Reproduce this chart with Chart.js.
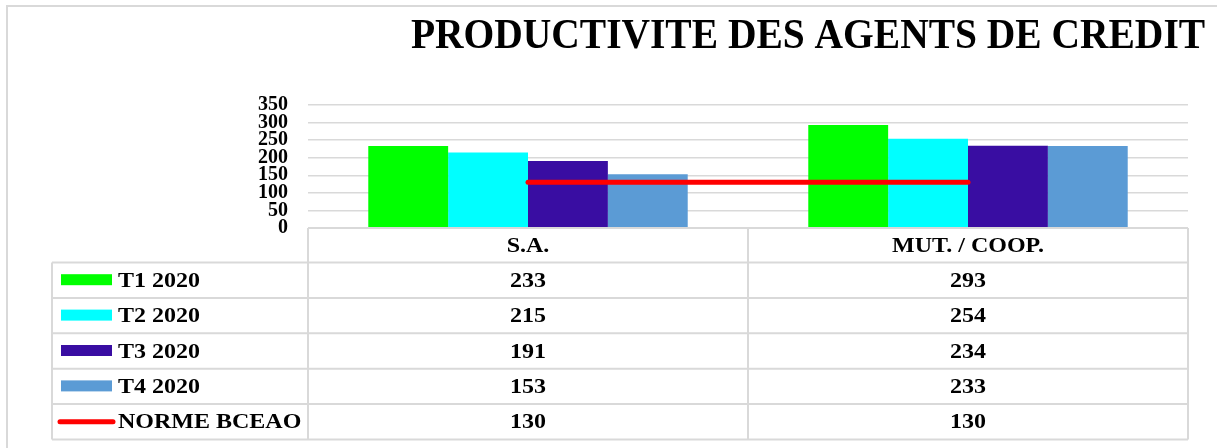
<!DOCTYPE html>
<html>
<head>
<meta charset="utf-8">
<script src="https://cdn.jsdelivr.net/npm/chart.js@4"></script>
<style>
  html, body { margin: 0; padding: 0; background: #fff; }
  #wrap { width: 1217px; height: 448px; }
</style>
</head>
<body>
<div id="wrap"><canvas id="chart" width="1217" height="448"></canvas></div>
<script>
const chartTitle = "PRODUCTIVITE DES AGENTS DE CREDIT";
const categories = ["S.A.", "MUT. / COOP."];
const seriesNames = ["T1 2020", "T2 2020", "T3 2020", "T4 2020", "NORME BCEAO"];
const t1Values = [233, 293];
const t2Values = [215, 254];
const t3Values = [191, 234];
const t4Values = [153, 233];
const normeValues = [130, 130];
const yMin = 0;
const yMax = 350;
const yStep = 50;

const colors = ["#00ff00", "#00ffff", "#390da2", "#5b9bd5", "#ff0000"];
const gridColor = "#d9d9d9";
const serif = "'Liberation Serif', 'Times New Roman', serif";

// draws text stretched horizontally like the original picture
function stretchedText(ctx, text, x, y, size, sx, align) {
    ctx.save();
    ctx.translate(x, y);
    ctx.scale(sx, 1);
    ctx.font = "bold " + size + "px " + serif;
    ctx.textAlign = align;
    ctx.textBaseline = "alphabetic";
    ctx.fillStyle = "#000";
    ctx.fillText(text, 0, 0);
    ctx.restore();
}

const frameAndTable = {
    id: "frameAndTable",
    beforeDraw(chart) {
        const ctx = chart.ctx;
        ctx.save();
        ctx.strokeStyle = gridColor;
        ctx.lineWidth = 2;
        ctx.beginPath();
        ctx.moveTo(7, 448);
        ctx.lineTo(7, 6);
        ctx.lineTo(1217, 6);
        ctx.stroke();
        ctx.restore();
        stretchedText(ctx, chartTitle, 808, 48, 42, 0.94, "center");
    },
    afterDraw(chart) {
        const ctx = chart.ctx;
        const area = chart.chartArea;
        const x = chart.scales.x;
        const c0 = x.getPixelForValue(0);
        const c1 = x.getPixelForValue(1);
        const left0 = 52;
        const left1 = area.left;
        const mid = (c0 + c1) / 2;
        const right = area.right;
        const top = area.bottom;
        const headBottom = top + 34.5;
        const rowH = 35.4;
        const rows = chart.data.datasets.length;
        const bottom = headBottom + rows * rowH;

        ctx.save();
        ctx.strokeStyle = gridColor;
        ctx.lineWidth = 2;
        ctx.beginPath();
        ctx.moveTo(left1, top);
        ctx.lineTo(right, top);
        for (let i = 0; i <= rows; i++) {
            const y = headBottom + i * rowH;
            ctx.moveTo(left0, y);
            ctx.lineTo(right, y);
        }
        [left1, mid, right].forEach(px => {
            ctx.moveTo(px, top);
            ctx.lineTo(px, bottom);
        });
        ctx.moveTo(left0, headBottom);
        ctx.lineTo(left0, bottom);
        ctx.stroke();
        ctx.restore();

        // header
        categories.forEach((cat, i) => {
            stretchedText(ctx, cat, x.getPixelForValue(i), top + 17 + 6.6, 20, 1.2, "center");
        });

        // rows
        chart.data.datasets.forEach((ds, r) => {
            const cy = headBottom + r * rowH + rowH / 2;
            ctx.save();
            if (ds.type === "line") {
                ctx.strokeStyle = ds.borderColor;
                ctx.lineWidth = 5;
                ctx.lineCap = "round";
                ctx.beginPath();
                ctx.moveTo(60, cy);
                ctx.lineTo(113, cy);
                ctx.stroke();
            } else {
                ctx.fillStyle = ds.backgroundColor;
                ctx.fillRect(61, cy - 6, 51, 11);
            }
            ctx.restore();
            stretchedText(ctx, ds.label, 118, cy + 6.6, 20, 1.2, "left");
            ds.data.forEach((v, i) => {
                stretchedText(ctx, String(v), x.getPixelForValue(i), cy + 6.6, 20, 1.2, "center");
            });
        });
    }
};

const barValues = [t1Values, t2Values, t3Values, t4Values];
const datasets = barValues.map((vals, i) => ({
    type: "bar",
    label: seriesNames[i],
    data: vals,
    backgroundColor: colors[i],
    borderWidth: 0,
    categoryPercentage: 0.726,
    barPercentage: 1,
    order: 1
}));
datasets.push({
    type: "line",
    label: seriesNames[4],
    data: normeValues,
    borderColor: colors[4],
    backgroundColor: colors[4],
    borderWidth: 5,
    borderCapStyle: "round",
    pointRadius: 0,
    fill: false,
    order: 0
});

new Chart(document.getElementById("chart"), {
    type: "bar",
    data: { labels: categories, datasets: datasets },
    options: {
        responsive: false,
        animation: false,
        layout: { padding: { top: 105, bottom: 220, left: 0, right: 29 } },
        plugins: {
            legend: { display: false },
            title: { display: false },
            tooltip: { enabled: false }
        },
        scales: {
            x: { display: false },
            y: {
                min: yMin,
                max: yMax,
                afterFit(scale) { scale.width = 308; },
                border: { display: false },
                grid: { color: gridColor, lineWidth: 1.5, drawTicks: false },
                ticks: {
                    stepSize: yStep,
                    autoSkip: false,
                    padding: 20,
                    color: "#000",
                    font: { family: serif, size: 20, weight: "bold", lineHeight: 1 }
                }
            }
        }
    },
    plugins: [frameAndTable]
});
</script>
</body>
</html>
